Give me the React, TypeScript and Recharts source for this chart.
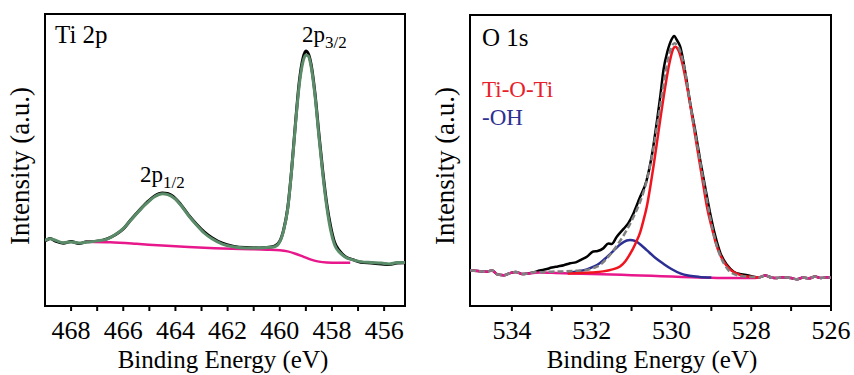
import React from 'react';
import { LineChart, Line, XAxis, YAxis, ReferenceArea } from 'recharts';

// ---------- Ti 2p panel ----------
const tiEnergy = [469.2, 469.0, 468.8, 468.6, 468.3, 468.0, 467.7, 467.4, 467.0, 466.6, 466.3, 466.0, 465.7, 465.4, 465.1, 464.8, 464.5, 464.3, 464.0, 463.8, 463.5, 463.2, 462.9, 462.6, 462.2, 461.8, 461.3, 460.8, 460.4, 460.2, 460.0, 459.85, 459.7, 459.55, 459.4, 459.25, 459.1, 459.0, 458.9, 458.8, 458.65, 458.5, 458.35, 458.2, 458.05, 457.9, 457.7, 457.5, 457.2, 456.9, 456.5, 456.1, 455.8, 455.5, 455.0];
const tiFit = [22.3, 22.6, 23.0, 22.5, 21.7, 21.9, 21.6, 21.9, 22.3, 23.0, 24.5, 26.5, 29.5, 32.5, 35.2, 37.4, 38.4, 38.2, 36.6, 34.6, 31.0, 27.8, 25.0, 23.0, 21.2, 20.3, 19.9, 19.9, 20.1, 20.3, 22.0, 26.0, 33.0, 46.0, 62.0, 76.0, 84.0, 86.0, 85.5, 82.0, 72.0, 58.0, 45.0, 34.0, 26.0, 21.0, 18.3, 16.8, 15.8, 15.2, 14.9, 14.7, 14.4, 14.9, 14.8];
const tiData = [22.3, 22.4, 23.1, 22.2, 21.5, 22.1, 21.4, 22.0, 22.2, 23.1, 24.4, 26.4, 29.6, 32.6, 35.4, 37.7, 38.7, 38.5, 36.8, 34.8, 31.2, 28.1, 25.4, 23.4, 21.5, 20.5, 20.0, 19.9, 20.1, 20.5, 22.2, 26.2, 33.3, 46.3, 62.5, 77.0, 85.2, 87.3, 86.3, 82.8, 72.8, 59.0, 46.0, 35.0, 27.2, 21.8, 18.8, 17.0, 15.9, 15.0, 14.7, 14.4, 14.2, 14.7, 14.8];
const tiBgEnergy = [467.4, 466.5, 465.5, 464.5, 463.5, 462.5, 461.5, 460.5, 460.0, 459.7, 459.4, 459.1, 458.8, 458.5, 458.2, 457.8, 457.3];
const tiBg = [22.0, 21.8, 21.3, 20.7, 20.2, 19.8, 19.5, 19.3, 19.1, 18.7, 17.9, 16.9, 15.9, 15.2, 14.9, 14.8, 14.8];
const tiTicks = [456, 457, 458, 459, 460, 461, 462, 463, 464, 465, 466, 467, 468];

// ---------- O 1s panel ----------
const oEnergy = [535.05, 534.85, 534.65, 534.5, 534.35, 534.2, 534.05, 533.9, 533.75, 533.6, 533.45, 533.3, 533.15, 533.0, 532.85, 532.7, 532.54, 532.4, 532.25, 532.12, 531.96, 531.85, 531.71, 531.58, 531.5, 531.37, 531.2, 531.08, 530.95, 530.8, 530.62, 530.5, 530.36, 530.28, 530.2, 530.1, 530.0, 529.93, 529.87, 529.78, 529.65, 529.53, 529.4, 529.28, 529.15, 529.03, 528.9, 528.77, 528.6, 528.44, 528.25, 528.1, 527.94, 527.8, 527.65, 527.5, 527.35, 527.2, 527.0, 526.85, 526.7, 526.55, 526.4, 526.25, 526.1, 526.0];
const oData = [12.3, 12.0, 11.8, 12.2, 10.8, 10.6, 11.3, 11.7, 11.0, 11.2, 11.6, 12.2, 12.6, 13.2, 13.6, 14.0, 14.7, 15.0, 16.0, 16.9, 18.7, 18.9, 19.8, 21.5, 21.3, 23.8, 26.5, 28.5, 31.9, 37.0, 43.3, 51.0, 63.9, 72.0, 81.1, 87.5, 91.5, 92.8, 91.5, 89.1, 80.0, 69.7, 60.0, 50.2, 40.5, 31.9, 24.0, 18.1, 14.0, 11.8, 10.9, 10.6, 10.1, 9.8, 10.5, 9.8, 9.6, 9.9, 9.6, 9.2, 9.8, 9.5, 10.1, 9.6, 9.9, 9.7];
const oFitEnergy = [535.05, 534.85, 534.65, 534.5, 534.35, 534.2, 534.05, 533.9, 533.75, 533.6, 533.45, 533.3, 533.0, 532.7, 532.4, 532.12, 531.95, 531.79, 531.62, 531.45, 531.28, 531.12, 530.99, 530.87, 530.74, 530.62, 530.5, 530.36, 530.2, 530.1, 530.0, 529.92, 529.85, 529.78, 529.65, 529.53, 529.4, 529.28, 529.15, 529.03, 528.9, 528.77, 528.6, 528.44, 528.25, 528.0, 527.8, 527.65, 527.5, 527.35, 527.2, 527.0, 526.85, 526.7, 526.55, 526.4, 526.25, 526.1, 526.0];
const oFit = [12.3, 12.0, 11.8, 12.2, 10.8, 10.6, 11.3, 11.7, 11.0, 11.2, 11.6, 11.6, 11.8, 11.9, 12.1, 12.4, 13.1, 14.1, 16.3, 19.2, 22.5, 26.1, 29.5, 33.0, 37.5, 43.0, 50.5, 62.0, 76.0, 84.0, 89.0, 90.3, 89.5, 87.5, 80.0, 69.5, 59.0, 49.5, 39.5, 30.5, 22.5, 17.0, 12.8, 11.0, 10.3, 10.0, 9.8, 10.5, 9.8, 9.6, 9.9, 9.6, 9.2, 9.8, 9.5, 10.1, 9.6, 9.9, 9.7];
const tiOTiEnergy = [532.6, 532.29, 532.0, 531.71, 531.5, 531.29, 531.15, 531.04, 530.9, 530.78, 530.7, 530.62, 530.53, 530.45, 530.36, 530.26, 530.16, 530.05, 529.95, 529.9, 529.83, 529.72, 529.61, 529.48, 529.36, 529.23, 529.11, 528.98, 528.86, 528.7, 528.52, 528.3, 528.1, 527.8];
const tiOTi = [11.2, 11.3, 11.5, 11.9, 12.5, 13.6, 15.5, 17.8, 21.5, 25.5, 29.5, 34.0, 41.0, 48.0, 56.5, 66.0, 75.0, 83.5, 88.5, 89.1, 88.0, 83.0, 75.4, 65.0, 54.7, 44.0, 34.1, 26.5, 20.4, 15.5, 12.4, 10.8, 10.1, 9.8];
const ohEnergy = [532.6, 532.4, 532.12, 531.95, 531.79, 531.62, 531.45, 531.28, 531.12, 531.04, 530.9, 530.75, 530.62, 530.4, 530.2, 530.0, 529.78, 529.55, 529.3, 529.0];
const oh = [11.4, 11.8, 12.6, 13.5, 14.8, 16.8, 19.0, 21.2, 22.5, 22.7, 22.3, 20.8, 19.2, 16.5, 14.5, 12.7, 11.2, 10.4, 10.0, 9.8];
const oBgEnergy = [535.05, 534.85, 534.65, 534.5, 534.35, 534.2, 534.05, 533.9, 533.75, 533.6, 533.3, 533.0, 532.5, 532.0, 531.5, 531.0, 530.5, 530.0, 529.5, 529.0, 528.5, 528.0, 527.8, 527.65, 527.5, 527.35, 527.2, 527.0, 526.85, 526.7, 526.55, 526.4, 526.25, 526.1, 526.0];
const oBg = [12.3, 12.0, 11.8, 12.2, 10.8, 10.6, 11.3, 11.7, 11.0, 11.2, 11.5, 11.4, 11.2, 11.0, 10.8, 10.6, 10.4, 10.1, 9.9, 9.7, 9.6, 9.6, 9.8, 10.5, 9.8, 9.6, 9.9, 9.6, 9.2, 9.8, 9.5, 10.1, 9.6, 9.9, 9.7];
const oTicks = [526, 527, 528, 529, 530, 531, 532, 533, 534];

const pts = (xs: number[], ys: number[]) => xs.map((x, i) => ({ x, y: ys[i] }));

const FONT = 'Liberation Serif';

function EvenTick(props: any) {
  const { x, y, payload } = props;
  const v = payload && payload.value;
  if (typeof v !== 'number' || v % 2 !== 0) return <g />;
  return (
    <text x={x} y={y} dy="0.71em" textAnchor="middle" fontSize={26} fill="#000" style={{ fontFamily: FONT }}>
      {String(v)}
    </text>
  );
}

function Panel(props: {
  domain: [number, number];
  ticks: number[];
  margin: { top: number; right: number; bottom: number; left: number };
  children: React.ReactNode;
}) {
  const { domain, ticks, margin, children } = props;
  return (
    <LineChart width={427} height={375} margin={margin} style={{ fontFamily: FONT }}>
      <XAxis
        dataKey="x"
        type="number"
        domain={domain}
        reversed
        allowDataOverflow
        ticks={ticks}
        interval={0}
        axisLine={false}
        tickLine={{ stroke: '#000', strokeWidth: 2 }}
        tickSize={5}
        tickMargin={10}
        height={30}
        tick={<EvenTick />}
      />
      <YAxis hide domain={[0, 100]} allowDataOverflow type="number" />
      {children}
      <ReferenceArea
        x1={domain[0]}
        x2={domain[1]}
        y1={0}
        y2={100}
        fill="none"
        fillOpacity={0}
        stroke="#000"
        strokeWidth={2}
        ifOverflow="visible"
      />
    </LineChart>
  );
}

const txt: React.CSSProperties = { fontFamily: FONT };

export default function App() {
  return (
    <div style={{ position: 'absolute', left: 0, top: 0, width: 854, height: 375, background: '#fff', fontFamily: FONT }}>
      <div style={{ position: 'absolute', left: 0, top: 0 }}>
        <Panel domain={[455.2, 469]} ticks={tiTicks} margin={{ top: 14, right: 22, bottom: 39, left: 45 }}>
          <Line data={pts(tiEnergy, tiData)} dataKey="y" type="monotone" stroke="#000" strokeWidth={3} dot={false} isAnimationActive={false} />
          <Line data={pts(tiBgEnergy, tiBg)} dataKey="y" type="monotone" stroke="#e8188c" strokeWidth={2.5} dot={false} isAnimationActive={false} />
          <Line data={pts(tiEnergy, tiFit)} dataKey="y" type="monotone" stroke="#5b8c69" strokeWidth={3} dot={false} isAnimationActive={false} />
        </Panel>
      </div>
      <div style={{ position: 'absolute', left: 427, top: 0 }}>
        <Panel domain={[526, 535.05]} ticks={oTicks} margin={{ top: 15, right: 23, bottom: 39, left: 43 }}>
          <Line data={pts(oEnergy, oData)} dataKey="y" type="monotone" stroke="#000" strokeWidth={2.5} dot={false} isAnimationActive={false} />
          <Line data={pts(oBgEnergy, oBg)} dataKey="y" type="monotone" stroke="#e8188c" strokeWidth={2.5} dot={false} isAnimationActive={false} />
          <Line data={pts(ohEnergy, oh)} dataKey="y" type="monotone" stroke="#2b2f94" strokeWidth={2.5} dot={false} isAnimationActive={false} />
          <Line data={pts(tiOTiEnergy, tiOTi)} dataKey="y" type="monotone" stroke="#f0141e" strokeWidth={2.5} dot={false} isAnimationActive={false} />
          <Line data={pts(oFitEnergy, oFit)} dataKey="y" type="monotone" stroke="#808080" strokeWidth={2.5} strokeDasharray="6 3" dot={false} isAnimationActive={false} />
        </Panel>
      </div>
      <svg width={854} height={375} style={{ position: 'absolute', left: 0, top: 0, pointerEvents: 'none' }}>
        <text x={55} y={43} fontSize={25} fill="#000" style={txt}>Ti 2p</text>
        <text x={302} y={42} fontSize={23} fill="#000" style={txt}>
          2p<tspan fontSize={17} dy={6}>3/2</tspan>
        </text>
        <text x={140} y={182} fontSize={23} fill="#000" style={txt}>
          2p<tspan fontSize={17} dy={6}>1/2</tspan>
        </text>
        <text x={29} y={166} fontSize={27} fill="#000" textAnchor="middle" transform="rotate(-90, 29, 166)" style={txt}>Intensity (a.u.)</text>
        <text x={223} y={368} fontSize={25} fill="#000" textAnchor="middle" style={txt}>Binding Energy (eV)</text>

        <text x={482} y={46} fontSize={25} fill="#000" style={txt}>O 1s</text>
        <text x={482} y={97} fontSize={23} fill="#e8202a" style={txt}>Ti-O-Ti</text>
        <text x={482} y={125} fontSize={23} fill="#2e3192" style={txt}>-OH</text>
        <text x={454} y={166} fontSize={27} fill="#000" textAnchor="middle" transform="rotate(-90, 454, 166)" style={txt}>Intensity (a.u.)</text>
        <text x={652} y={368} fontSize={25} fill="#000" textAnchor="middle" style={txt}>Binding Energy (eV)</text>
      </svg>
    </div>
  );
}
